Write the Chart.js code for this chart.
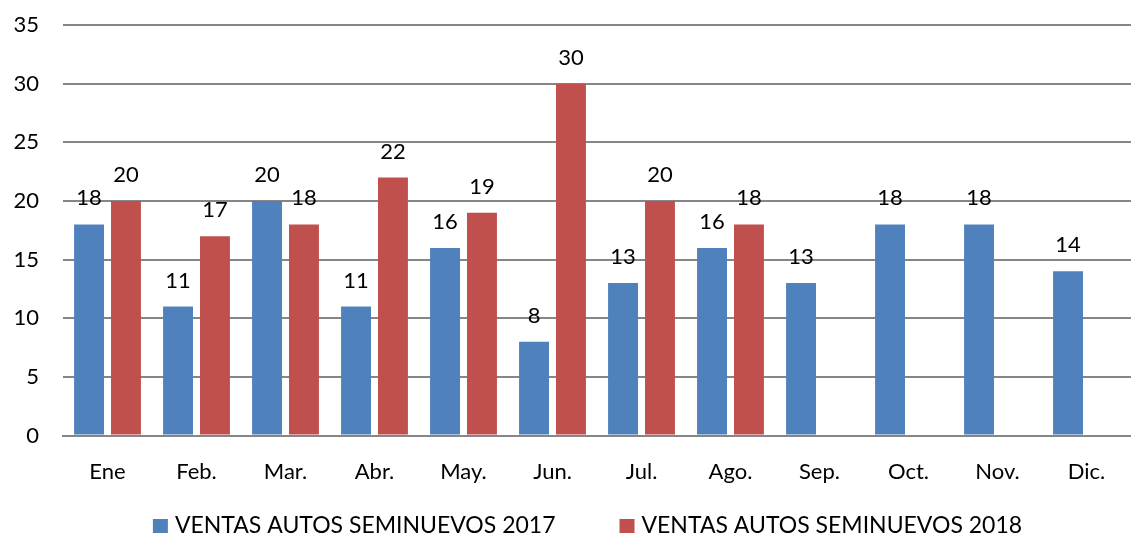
<!DOCTYPE html>
<html>
<head>
<meta charset="utf-8">
<script src="https://cdn.jsdelivr.net/npm/chart.js@4"></script>
<style>
  html, body { margin: 0; padding: 0; background: #fff; }
  #wrap { width: 1131px; height: 535px; }
</style>
</head>
<body>
<div id="wrap"><canvas id="salesChart"></canvas></div>
<script>
// Chart data
const months = ['Ene', 'Feb.', 'Mar.', 'Abr.', 'May.', 'Jun.', 'Jul.', 'Ago.', 'Sep.', 'Oct.', 'Nov.', 'Dic.'];
const sales2017 = [18, 11, 20, 11, 16, 8, 13, 16, 13, 18, 18, 14];
const sales2018 = [20, 17, 18, 22, 19, 30, 20, 18, null, null, null, null];
const seriesNames = ['VENTAS AUTOS SEMINUEVOS 2017', 'VENTAS AUTOS SEMINUEVOS 2018'];

const FONT = 'Lato, "Open Sans", sans-serif';

// Draw value labels above each bar
const valueLabels = {
    id: 'valueLabels',
    afterDatasetsDraw(chart) {
        const ctx = chart.ctx;
        ctx.save();
        ctx.font = '22px ' + FONT;
        ctx.fillStyle = '#000';
        ctx.textAlign = 'center';
        ctx.textBaseline = 'alphabetic';
        chart.data.datasets.forEach((ds, i) => {
            chart.getDatasetMeta(i).data.forEach((bar, j) => {
                if (ds.data[j] == null) return;
                ctx.fillText(ds.data[j], bar.x, bar.y - 19);
            });
        });
        ctx.restore();
    }
};

// Legend drawn at the bottom, centred under the chart
const bottomLegend = {
    id: 'bottomLegend',
    afterDraw(chart) {
        const ctx = chart.ctx;
        const gap = 64;
        const y = 526;
        ctx.save();
        ctx.font = '23px ' + FONT;
        ctx.textBaseline = 'middle';
        const items = chart.data.datasets.map(ds => ({
            text: ds.label,
            color: ds.backgroundColor,
            w: 22 + ctx.measureText(ds.label).width
        }));
        let total = items.reduce((s, it) => s + it.w, 0) + gap * (items.length - 1);
        let x = (chart.width - total) / 2 + 22;
        items.forEach(it => {
            ctx.fillStyle = it.color;
            ctx.fillRect(x, y - 7, 15, 14);
            ctx.fillStyle = '#000';
            ctx.fillText(it.text, x + 22, y);
            x += it.w + gap;
        });
        ctx.restore();
    }
};

// no extra edge padding from tick labels
function noEdgePadding(scale) {
    scale.paddingLeft = 0;
    scale.paddingRight = 0;
    scale.paddingTop = 0;
    scale.paddingBottom = 0;
}

const ctx = document.getElementById('salesChart').getContext('2d');
new Chart(ctx, {
    type: 'bar',
    data: {
        labels: months,
        datasets: [{
            label: seriesNames[0],
            data: sales2017,
            backgroundColor: '#4F81BD'
        }, {
            label: seriesNames[1],
            data: sales2018,
            backgroundColor: '#C0504D'
        }]
    },
    options: {
        responsive: true,
        maintainAspectRatio: false,
        animation: false,
        categoryPercentage: 0.83,
        barPercentage: 0.81,
        layout: { padding: { top: 25, right: 0, left: 14, bottom: 35 } },
        plugins: {
            tooltip: { enabled: false },
            legend: { display: false }
        },
        scales: {
            x: {
                afterFit: noEdgePadding,
                grid: { display: false },
                border: { color: '#868686', width: 2 },
                ticks: { font: { family: FONT, size: 22 }, color: '#000', padding: 15 }
            },
            y: {
                afterFit(scale) {
                    noEdgePadding(scale);
                    scale.width = 49;
                },
                min: 0,
                max: 35,
                ticks: { stepSize: 5, font: { family: FONT, size: 22 }, color: '#000', padding: 24 },
                grid: { color: '#868686', lineWidth: 2, drawTicks: false },
                border: { display: false }
            }
        }
    },
    plugins: [valueLabels, bottomLegend]
});
</script>
</body>
</html>
